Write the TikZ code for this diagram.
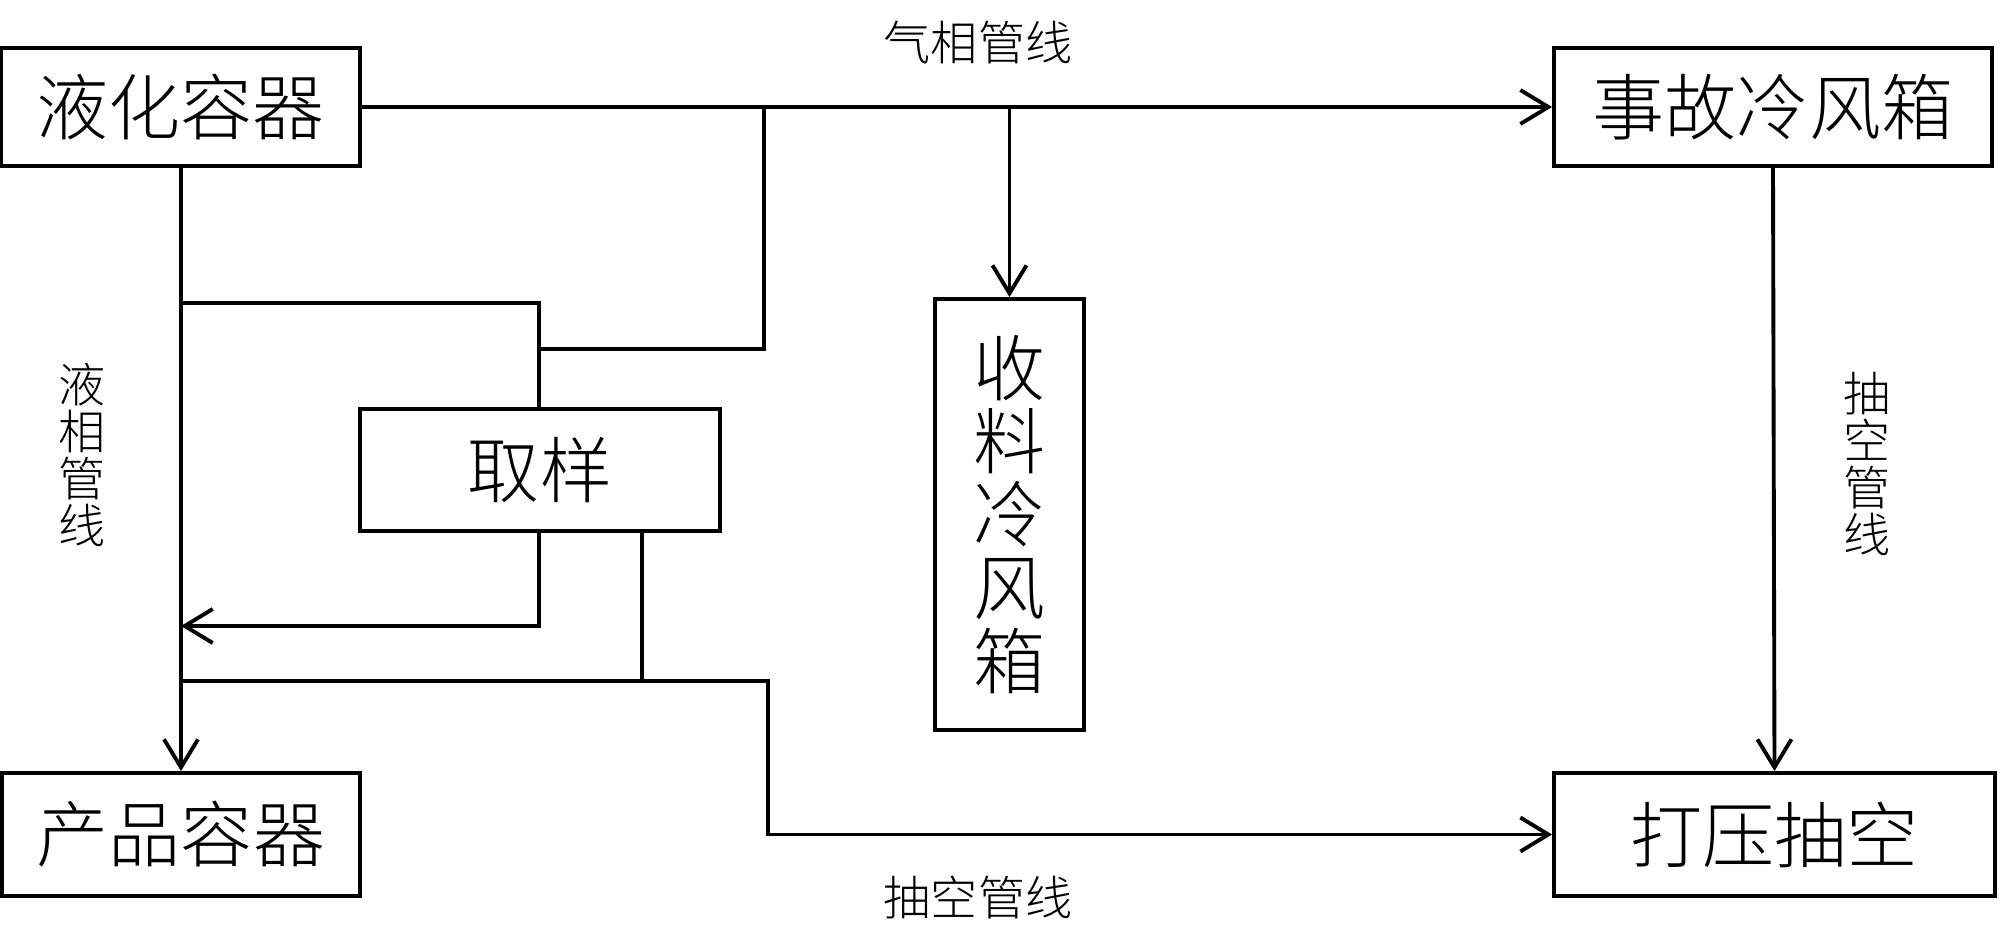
\documentclass[tikz,border=0pt]{standalone}
\usepackage{fontspec}
\newfontfamily\cjk{Noto Sans CJK SC}[UprightFont=* Light]
\usetikzlibrary{arrows.meta,positioning}

\begin{document}
\begin{tikzpicture}[
  box/.style={draw, line width=1.1pt, inner sep=0pt, align=center, font=\cjk\fontsize{20.5}{20.8}\selectfont},
  pipe/.style={line width=1.1pt},
  flow/.style={pipe, -{Straight Barb[length=2.8mm, width=3.4mm]}},
  tag/.style={inner sep=0pt, align=center, font=\cjk\fontsize{13.4}{13.4}\selectfont}
]
\useasboundingbox (0,0) rectangle (20,-9.42);
% Define the units
\node (liq) at (1.805,-1.07) [box, minimum width=3.59cm, minimum height=1.18cm] {液化容器};
\node (prod) at (1.81,-8.345) [box, minimum width=3.58cm, minimum height=1.23cm] {产品容器};
\node (samp) at (5.40,-4.70) [box, minimum width=3.60cm, minimum height=1.22cm] {取样};
\node (coll) at (10.095,-5.145) [box, minimum width=1.49cm, minimum height=4.31cm] {收\\料\\冷\\风\\箱};
\node (emer) at (17.73,-1.07) [box, minimum width=4.38cm, minimum height=1.18cm] {事故冷风箱};
\node (press) at (17.745,-8.345) [box, minimum width=4.41cm, minimum height=1.23cm] {打压抽空};

% Line labels
\node (gasline) at (9.78,-0.43) [tag] {气相管线};
\node (vacline) at (9.78,-8.98) [tag] {抽空管线};
\node (liqline) at (0.82,-4.55) [tag] {液\\相\\管\\线};
\node (evacline) at (18.67,-4.64) [tag] {抽\\空\\管\\线};

% Junction points
\coordinate (gtap) at (7.64,-1.07);
\coordinate (ctap) at (10.095,-1.07);
\coordinate (stop) at (5.39,-3.49);
\coordinate (lup) at (1.81,-3.03);
\coordinate (lret) at (1.81,-6.26);
\coordinate (lvac) at (1.81,-6.81);
\coordinate (vturn) at (7.68,-6.81);

% Gas side
\draw [flow] (liq.east) -- (emer.west);
\draw [pipe] (gtap) |- (stop);
\draw [flow] (ctap) -- (coll.north);
\draw [flow] (emer.south) -- (press.north);

% Liquid side
\draw [flow] (liq.south -| lup) -- (prod.north -| lup);
\draw [pipe] (lup) -| (samp.north -| stop);
\draw [flow] (samp.south -| stop) |- (lret);
\draw [pipe] ([xshift=1.02cm]samp.south) |- (lvac);
\draw [flow] (lvac) -| (vturn) |- (press.west);
\end{tikzpicture}
\end{document}
